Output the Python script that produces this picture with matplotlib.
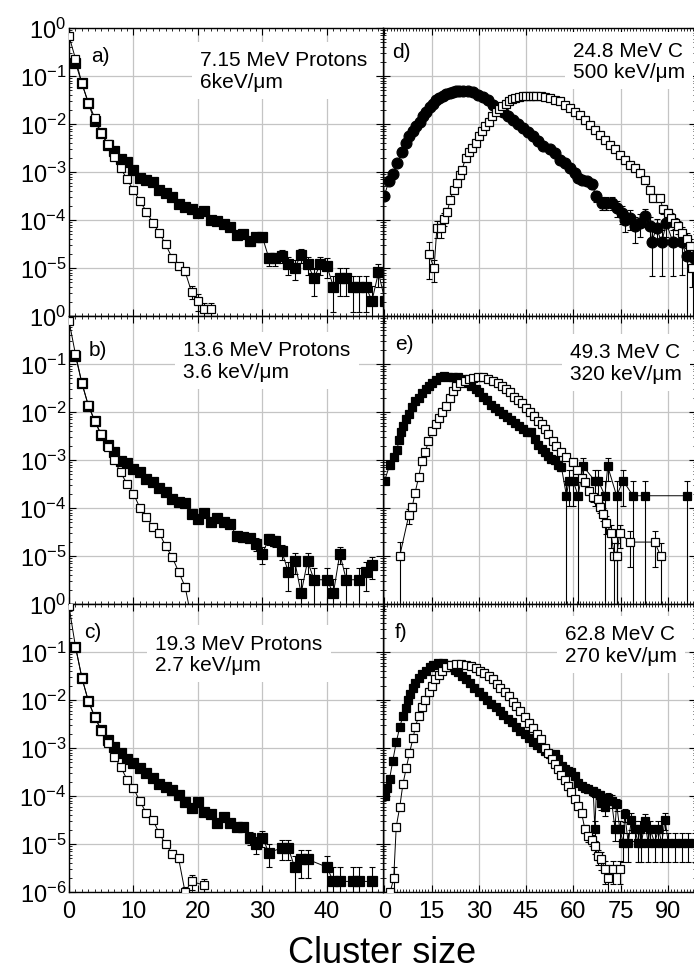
import numpy as np
import matplotlib
matplotlib.use("Agg")
import matplotlib.pyplot as plt
from matplotlib.ticker import MultipleLocator, FixedLocator, LogLocator, FuncFormatter, NullFormatter

plt.rcParams['font.family'] = ['Liberation Sans', 'DejaVu Sans']
plt.rcParams['mathtext.fontset'] = 'custom'
plt.rcParams['mathtext.rm'] = 'Liberation Sans'
plt.rcParams['mathtext.it'] = 'Liberation Sans:italic'
plt.rcParams['mathtext.bf'] = 'Liberation Sans:bold'

# ---------------- data ----------------
# a) 7.15 MeV protons
a_open_x = list(range(0, 23))
a_open_y = [0.68, 0.23, 0.07, 0.028, 0.0133, 0.0065, 0.0039, 0.0021, 0.00123, 7.0e-4,
            4.2e-4, 2.5e-4, 1.5e-4, 8.8e-5, 5.4e-5, 3.1e-5, 1.6e-5, 1.1e-5, 8.5e-6, 3.2e-6,
            2.1e-6, 1.4e-6, 1.4e-6]
a_open_err = {18: 0.15, 19: 0.3, 20: 0.4, 21: 0.35, 22: 0.35}
a_fill_x = list(range(1, 50))
a_fill_y = [0.19, 0.07, 0.027, 0.0115, 0.0065, 0.0037, 0.0028, 0.0019, 0.0016, 0.0011,
            7.6e-4, 6.7e-4, 6.3e-4, 4.2e-4, 3.6e-4, 3.0e-4, 2.2e-4, 1.9e-4, 1.7e-4, 1.37e-4,
            1.55e-4, 1.0e-4, 9.4e-5, 8.3e-5, 7.3e-5, 4.8e-5, 5.2e-5, 3.6e-5, 4.4e-5, 4.4e-5,
            1.6e-5, 1.6e-5, 1.8e-5, 1.2e-5, 1.0e-5, 1.9e-5, 1.2e-5, 6.2e-6, 1.2e-5, 1.1e-5,
            4.1e-6, 6.2e-6, 6.2e-6, 4.1e-6, 4.1e-6, 4.1e-6, 2.1e-6, 8.1e-6, 2.1e-6]
a_fill_err = {26: 0.15, 27: 0.15, 28: 0.2, 29: 0.2, 30: 0.2, 31: 0.3, 32: 0.3, 33: 0.3,
              34: 0.4, 35: 0.45, 36: 0.33, 37: 0.4, 38: 0.58, 39: 0.4, 40: 0.44, 41: 0.7,
              42: 0.58, 43: 0.58, 44: 0.7, 45: 0.7, 46: 0.7, 47: 1.0, 48: 0.5, 49: 1.0}

# b) 13.6 MeV protons
b_open_x = list(range(0, 20))
b_open_y = [0.79, 0.16, 0.040, 0.0138, 0.0065, 0.0034, 0.00186, 1.0e-3, 5.5e-4, 3.2e-4,
            2.0e-4, 1.0e-4, 6.5e-5, 4.0e-5, 3.0e-5, 1.6e-5, 9.5e-6, 4.7e-6, 2.3e-6, 5e-7]
b_open_err = {17: 0.15, 18: 0.2}
b_fill_x = list(range(1, 39)) + [40, 41, 42, 43, 45, 46, 47]
b_fill_y = [0.15, 0.040, 0.0135, 0.0065, 0.0033, 0.0021, 0.00148, 9.5e-4, 8.5e-4, 6.5e-4,
            5.5e-4, 4.0e-4, 3.4e-4, 2.6e-4, 2.2e-4, 1.55e-4, 1.32e-4, 1.26e-4, 7.6e-5, 5.9e-5,
            7.8e-5, 5.2e-5, 6.2e-5, 5.0e-5, 4.6e-5, 2.6e-5, 2.45e-5, 2.4e-5, 1.8e-5, 1.12e-5,
            2.3e-5, 2.1e-5, 1.26e-5, 4.7e-6, 7.9e-6, 1.66e-6, 7.9e-6, 3.2e-6,
            3.2e-6, 1.66e-6, 1.12e-5, 3.2e-6, 3.2e-6, 4.7e-6, 6.5e-6]
b_fill_err = {26: 0.2, 27: 0.2, 28: 0.2, 29: 0.3, 30: 0.38, 31: 0.27, 32: 0.27, 33: 0.36,
              34: 0.6, 35: 0.46, 36: 1.0, 37: 0.46, 38: 0.72, 40: 0.72, 41: 1.0, 42: 0.38,
              43: 0.72, 45: 0.72, 46: 0.6, 47: 0.5}

# c) 19.3 MeV protons
c_open_x = list(range(0, 20)) + [21]
c_open_y = [0.89, 0.13, 0.029, 0.0095, 0.0044, 0.0023, 0.00126, 6.6e-4, 4.1e-4, 2.2e-4,
            1.45e-4, 7.8e-5, 4.4e-5, 3.2e-5, 1.66e-5, 9.8e-6, 6.3e-6, 5.0e-6, 1.0e-6, 1.66e-6,
            1.38e-6]
c_open_err = {17: 0.15, 18: 0.3, 19: 0.35, 21: 0.35}
c_fill_x = list(range(1, 32)) + [33, 34, 35, 36, 37, 40, 41, 42, 44, 45, 47]
c_fill_y = [0.13, 0.029, 0.0095, 0.0044, 0.0024, 1.48e-3, 1.07e-3, 7.8e-4, 6.0e-4, 4.8e-4,
            3.8e-4, 2.95e-4, 2.4e-4, 1.82e-4, 1.55e-4, 1.32e-4, 1.07e-4, 7.6e-5, 5.5e-5, 7.4e-5,
            4.7e-5, 4.2e-5, 2.7e-5, 3.7e-5, 2.8e-5, 2.3e-5, 2.3e-5, 1.35e-5, 1.02e-5, 1.35e-5,
            6.6e-6, 8.3e-6, 8.3e-6, 3.3e-6, 4.8e-6, 4.8e-6, 3.3e-6, 1.66e-6, 1.66e-6, 1.66e-6,
            1.66e-6, 1.66e-6]
c_fill_err = {26: 0.15, 27: 0.15, 28: 0.3, 29: 0.4, 30: 0.35, 31: 0.5, 33: 0.45, 34: 0.45,
              35: 0.7, 36: 0.6, 37: 0.6, 40: 0.7, 41: 1.0, 42: 1.0, 44: 1.0, 45: 1.0, 47: 1.0}

# d) 24.8 MeV C  (filled circles / open squares)
d_fill_x = [0, 1.5, 2.7, 4.0, 5.7, 7.0, 8.0, 9.1, 10.1, 11.2, 12.3, 13.3, 14.4, 15.4, 16.5,
            17.5, 18.6, 19.7, 20.7, 21.8, 22.8, 23.8, 24.9, 26.5, 28.1, 29.7, 31.3, 32.9, 34.5,
            36.0, 37.6, 39.2, 40.8, 42.4, 44.0, 45.6, 47.1, 48.7, 50.3, 52.5, 54.1, 55.7, 57.3,
            58.9, 60.5, 61.5, 62.6, 64.2, 65.8, 67.3, 69.0, 70.5, 72.1, 73.7, 75.3, 76.3, 78.0,
            79.5, 81.1, 82.7, 84.3, 84.8, 86.4, 88.0, 89.5, 91.6, 94.3, 95.9, 98.0]
d_fill_y = [3.2e-4, 6.5e-4, 9.1e-4, 1.55e-3, 2.6e-3, 4.0e-3, 5.5e-3, 7.1e-3, 8.9e-3, 0.0112,
            0.0148, 0.0182, 0.0224, 0.0263, 0.0309, 0.0347, 0.0389, 0.0417, 0.0447, 0.0468,
            0.0479, 0.049, 0.049, 0.0479, 0.0457, 0.0407, 0.0363, 0.0309, 0.0251, 0.0204,
            0.0174, 0.0148, 0.0123, 0.0100, 8.3e-3, 6.8e-3, 5.5e-3, 4.4e-3, 3.5e-3, 2.95e-3,
            2.5e-3, 1.8e-3, 1.55e-3, 1.2e-3, 9.5e-4, 7.6e-4, 6.9e-4, 6.5e-4, 5.5e-4, 3.2e-4,
            2.3e-4, 2.3e-4, 2.3e-4, 1.8e-4, 1.4e-4, 1.0e-4, 1.1e-4, 7.4e-5, 8.7e-5, 1.2e-4,
            7.4e-5, 3.4e-5, 6.9e-5, 3.4e-5, 8.7e-5, 3.4e-5, 3.5e-5, 1.8e-5, 1.7e-5]
d_fill_err = {61.5: 0.15, 62.6: 0.15, 64.2: 0.15, 65.8: 0.18, 67.3: 0.25, 69.0: 0.3,
              70.5: 0.3, 72.1: 0.3, 73.7: 0.35, 75.3: 0.4, 76.3: 0.45, 78.0: 0.45, 79.5: 0.55,
              81.1: 0.5, 82.7: 0.4, 84.3: 0.55, 84.8: 0.8, 86.4: 0.55, 88.0: 0.8, 89.5: 0.5,
              91.6: 0.8, 94.3: 0.8, 95.9: 1.0, 98.0: 1.0}
d_open_x = [14.1, 15.8, 16.7, 18.1, 18.9, 20.0, 20.9, 22.0, 23.0, 23.9, 24.7, 25.8, 26.8, 27.9,
            29.0, 30.0, 31.1, 32.1, 33.2, 34.2, 35.3, 36.4, 37.4, 38.5, 39.5, 40.6, 41.6, 42.7,
            44.0, 45.0, 46.1, 47.1, 48.2, 49.8, 51.0, 52.5, 54.1, 55.7, 57.3, 58.9, 60.5, 62.1,
            63.7, 65.2, 66.8, 68.4, 70.0, 71.6, 73.2, 74.7, 76.3, 77.9, 79.5, 81.1, 82.7, 84.3,
            85.3, 87.4, 88.5, 90.0, 91.1, 92.2, 93.2, 94.3, 95.9, 97.0, 97.5]
d_open_y = [2.0e-5, 1.0e-5, 6.9e-5, 6.9e-5, 1.07e-4, 1.5e-4, 2.6e-4, 4.3e-4, 5.9e-4, 8.5e-4,
            1.12e-3, 1.95e-3, 2.6e-3, 3.2e-3, 4.0e-3, 5.5e-3, 7.1e-3, 8.9e-3, 0.0112, 0.0145,
            0.0174, 0.0204, 0.024, 0.0263, 0.0295, 0.0331, 0.0355, 0.0372, 0.0389, 0.039,
            0.0389, 0.039, 0.0389, 0.038, 0.0363, 0.0347, 0.0316, 0.0295, 0.0251, 0.0214,
            0.0182, 0.0155, 0.0123, 9.5e-3, 7.6e-3, 6.0e-3, 4.7e-3, 3.7e-3, 2.95e-3, 2.3e-3,
            1.8e-3, 1.41e-3, 1.2e-3, 9.5e-4, 6.9e-4, 4.3e-4, 2.9e-4, 2.9e-4, 1.66e-4, 1.41e-4,
            1.12e-4, 8.7e-5, 7.4e-5, 5.4e-5, 4.0e-5, 2.9e-5, 1.0e-5]
d_open_err = {14.1: 0.7, 15.8: 0.5, 16.7: 0.4, 18.1: 0.4, 18.9: 0.3, 20.0: 0.2, 84.3: 0.1,
              85.3: 0.15, 87.4: 0.15, 88.5: 0.2, 90.0: 0.2, 91.1: 0.25, 92.2: 0.25, 93.2: 0.3,
              94.3: 0.3, 95.9: 0.35, 97.0: 0.4, 97.5: 0.6}

# e) 49.3 MeV C
e_fill_x = [0.1, 1.7, 3.0, 4.0, 4.7, 5.4, 6.1, 7.0, 7.8, 8.9, 9.9, 11.0, 12.1, 13.1, 14.2, 15.2,
            16.5, 17.8, 18.8, 20.2, 21.8, 23.4, 24.9, 26.5, 27.6, 29.0, 30.2, 31.3, 32.6, 33.9,
            35.0, 36.4, 37.6, 38.9, 40.3, 41.6, 42.9, 44.0, 45.2, 46.6, 47.7, 48.8, 49.9, 50.9,
            52.0, 53.0, 54.1, 55.2, 56.2, 57.8, 58.6, 59.9, 61.5, 63.1, 66.8, 67.9, 70.0, 70.9,
            73.7, 75.8, 78.9, 82.6, 95.9]
e_fill_y = [3.7e-4, 7.8e-4, 1.15e-3, 1.62e-3, 2.6e-3, 3.8e-3, 5.2e-3, 7.1e-3, 9.1e-3, 0.0126,
            0.0166, 0.020, 0.0245, 0.030, 0.0355, 0.040, 0.0457, 0.0525, 0.0562, 0.0537,
            0.0537, 0.0525, 0.049, 0.040, 0.0355, 0.030, 0.0257, 0.0209, 0.0174, 0.0141,
            0.012, 0.0107, 9.3e-3, 7.8e-3, 6.8e-3, 5.8e-3, 5.2e-3, 4.5e-3, 3.8e-3, 3.9e-3,
            2.75e-3, 2.1e-3, 1.7e-3, 1.45e-3, 1.23e-3, 1.05e-3, 9.8e-4, 7.8e-4, 7.1e-4, 1.8e-4,
            3.7e-4, 3.7e-4, 1.8e-4, 7.4e-4, 3.7e-4, 3.7e-4, 1.8e-4, 7.4e-4, 1.8e-4, 3.7e-4,
            1.8e-4, 1.8e-4, 1.8e-4]
e_fill_err = {1.7: 0.15, 45.2: 0.12, 46.6: 0.12, 47.7: 0.15, 48.8: 0.15, 49.9: 0.15, 50.9: 0.15,
              52.0: 0.15, 53.0: 0.15, 54.1: 0.15, 55.2: 0.15, 56.2: 0.15, 57.8: 1.0, 58.6: 0.7,
              59.9: 0.7, 61.5: 1.0, 63.1: 0.5, 66.8: 0.7, 67.9: 0.7, 70.0: 1.0, 70.9: 0.5,
              73.7: 1.0, 75.8: 0.7, 78.9: 1.0, 82.6: 1.0, 95.9: 1.0}
e_open_x = [4.9, 7.8, 8.9, 9.8, 10.9, 11.9, 13.0, 14.0, 15.0, 16.3, 17.3, 18.4, 19.5, 20.7, 21.7,
            22.8, 24.1, 25.5, 26.8, 28.1, 29.7, 31.3, 32.9, 34.5, 36.0, 37.4, 38.7, 40.0, 41.3,
            42.4, 43.8, 45.0, 46.1, 47.4, 48.7, 49.9, 50.9, 52.0, 53.6, 54.5, 56.2, 57.8, 59.9,
            61.2, 62.6, 63.7, 64.8, 66.3, 67.9, 68.4, 69.5, 70.5, 71.9, 73.0, 73.7, 74.7, 78.0,
            85.8, 87.7]
e_open_y = [1.0e-5, 7.1e-5, 1.07e-4, 2.1e-4, 4.4e-4, 9.5e-4, 1.45e-3, 2.45e-3, 4.1e-3, 5.6e-3,
            7.6e-3, 0.010, 0.0135, 0.020, 0.0275, 0.0355, 0.040, 0.0447, 0.049, 0.0513,
            0.0525, 0.0525, 0.049, 0.0447, 0.040, 0.0355, 0.030, 0.0257, 0.0209, 0.0178,
            0.0151, 0.012, 9.8e-3, 8.3e-3, 6.6e-3, 5.6e-3, 4.5e-3, 3.5e-3, 2.5e-3, 2.0e-3,
            1.45e-3, 1.17e-3, 9.1e-4, 6.3e-4, 4.3e-4, 3.5e-4, 2.3e-4, 1.7e-4, 1.55e-4, 1.05e-4,
            7.6e-5, 4.9e-5, 3.0e-5, 1.0e-5, 1.0e-5, 3.0e-5, 1.95e-5, 1.95e-5, 1.0e-5]
e_open_err = {4.9: 1.0, 7.8: 0.35, 8.9: 0.2, 64.8: 0.15, 66.3: 0.2, 67.9: 0.2, 68.4: 0.25,
              69.5: 0.3, 70.5: 0.4, 71.9: 0.5, 73.0: 0.9, 73.7: 0.9, 74.7: 0.5, 78.0: 0.7,
              85.8: 0.7, 87.7: 0.9}

# f) 62.8 MeV C
f_fill_x = [0.1, 0.8, 1.7, 2.7, 3.8, 4.9, 5.9, 6.8, 7.5, 8.2, 9.1, 9.9, 11.0, 12.1, 13.1, 14.4,
            15.6, 17.0, 18.6, 20.2, 21.3, 22.3, 23.4, 24.7, 26.0, 27.3, 28.6, 30.0, 31.3, 32.6,
            33.9, 35.3, 36.6, 37.8, 39.2, 40.6, 41.9, 43.1, 44.5, 45.9, 47.1, 48.4, 49.8, 51.0,
            52.5, 54.1, 55.2, 56.3, 57.3, 58.4, 59.4, 60.5, 61.5, 62.6, 63.6, 64.7, 66.3, 66.8,
            67.3, 68.4, 68.9, 70.0, 71.0, 72.1, 73.2, 73.7, 74.7, 75.8, 76.3, 77.4, 78.4, 79.5,
            80.5, 81.1, 81.6, 82.7, 83.7, 84.3, 85.8, 87.0, 88.0, 89.1, 90.1, 92.2, 94.3, 96.4,
            98.5]
f_fill_y = [1.0e-4, 1.48e-4, 2.3e-4, 5.4e-4, 1.32e-3, 2.7e-3, 4.6e-3, 6.8e-3, 9.8e-3, 0.0135,
            0.0174, 0.0224, 0.0282, 0.0347, 0.0407, 0.0479, 0.0537, 0.0589, 0.0589, 0.0537,
            0.0479, 0.0427, 0.038, 0.0309, 0.0269, 0.0229, 0.0182, 0.0148, 0.0123, 0.0102,
            8.3e-3, 7.1e-3, 6.0e-3, 4.9e-3, 4.0e-3, 3.4e-3, 2.8e-3, 2.3e-3, 1.95e-3, 1.58e-3,
            1.35e-3, 1.15e-3, 9.8e-4, 8.7e-4, 7.4e-4, 7.4e-4, 5.9e-4, 4.3e-4, 3.6e-4, 3.3e-4,
            3.1e-4, 2.6e-4, 1.9e-4, 1.62e-4, 1.48e-4, 1.38e-4, 1.26e-4, 2.1e-5, 1.17e-4, 1.07e-4,
            7.2e-5, 5.8e-5, 9.3e-5, 7.9e-5, 2.1e-5, 6.8e-5, 2.1e-5, 1.05e-5, 4.2e-5, 1.05e-5,
            3.2e-5, 2.1e-5, 1.05e-5, 2.1e-5, 1.05e-5, 3.0e-5, 1.05e-5, 2.1e-5, 1.05e-5, 2.1e-5,
            1.05e-5, 3.2e-5, 1.05e-5, 1.05e-5, 1.05e-5, 1.05e-5, 1.05e-5]
f_fill_err = {61.5: 0.15, 62.6: 0.15, 63.6: 0.15, 64.7: 0.15, 66.3: 0.2, 66.8: 0.45, 67.3: 0.2,
              68.4: 0.2, 68.9: 0.3, 70.0: 0.35, 71.0: 0.25, 72.1: 0.3, 73.2: 0.45, 73.7: 0.3,
              74.7: 0.45, 75.8: 0.6, 76.3: 0.3, 77.4: 0.6, 78.4: 0.38, 79.5: 0.45, 80.5: 0.6,
              81.1: 0.45, 81.6: 0.6, 82.7: 0.38, 83.7: 0.6, 84.3: 0.45, 85.8: 0.6, 87.0: 0.45,
              88.0: 0.6, 89.1: 0.38, 90.1: 0.6, 92.2: 0.6, 94.3: 0.6, 96.4: 0.6, 98.5: 0.6}
f_open_x = [1.9, 3.0, 3.8, 4.9, 5.9, 7.0, 8.0, 9.1, 9.9, 10.9, 11.9, 13.0, 14.1, 15.1, 16.2,
            17.3, 18.4, 19.7, 21.3, 22.8, 24.4, 26.0, 27.6, 29.2, 30.4, 31.8, 33.2, 34.5, 35.7,
            36.8, 38.2, 39.5, 40.8, 41.9, 43.1, 44.5, 45.9, 47.1, 48.4, 49.8, 51.0, 52.0, 53.1,
            54.1, 55.2, 56.2, 57.3, 58.4, 59.4, 60.5, 61.5, 62.6, 63.6, 64.7, 65.8, 66.8, 67.9,
            68.9, 70.0, 71.0, 72.6, 74.7]
f_open_y = [1.0e-6, 1.95e-6, 2.3e-5, 5.8e-5, 1.74e-4, 3.9e-4, 7.8e-4, 1.58e-3, 2.8e-3, 4.6e-3,
            7.1e-3, 0.0102, 0.0145, 0.020, 0.0269, 0.0331, 0.0407, 0.0479, 0.0537, 0.0562,
            0.0562, 0.0537, 0.0501, 0.0457, 0.0407, 0.0363, 0.0309, 0.0269, 0.0214, 0.0174,
            0.0148, 0.012, 9.3e-3, 7.4e-3, 5.8e-3, 4.4e-3, 3.3e-3, 2.6e-3, 1.95e-3, 1.51e-3,
            1.02e-3, 7.8e-4, 6.0e-4, 4.6e-4, 3.6e-4, 2.8e-4, 2.2e-4, 1.62e-4, 1.2e-4, 8.5e-5,
            6.2e-5, 4.5e-5, 2.1e-5, 1.45e-5, 1.23e-5, 8.9e-6, 5.6e-6, 4.8e-6, 3.0e-6, 1.95e-6,
            3.0e-6, 3.0e-6]
f_open_err = {3.0: 0.7, 3.8: 0.1, 61.5: 0.1, 62.6: 0.12, 63.6: 0.2, 64.7: 0.25, 65.8: 0.25,
              66.8: 0.3, 67.9: 0.35, 68.9: 0.4, 70.0: 0.5, 71.0: 0.6, 72.6: 0.5, 74.7: 0.5}

panel_tags = ['a)', 'b)', 'c)', 'd)', 'e)', 'f)']
panel_texts = ['7.15 MeV Protons\n6keV/\u03bcm',
               '13.6 MeV Protons\n3.6 keV/\u03bcm',
               '19.3 MeV Protons\n2.7 keV/\u03bcm',
               '24.8 MeV C\n500 keV/\u03bcm',
               '49.3 MeV C\n320 keV/\u03bcm',
               '62.8 MeV C\n270 keV/\u03bcm']
left_ticks = [0, 10, 20, 30, 40]
right_ticks = [0, 15, 30, 45, 60, 75, 90]
y_ticks = [1e-6, 1e-5, 1e-4, 1e-3, 1e-2, 1e-1, 1e0]

# ---------------- figure ----------------
W, H = 694.0, 970.0
fig = plt.figure(figsize=(W / 100, H / 100), dpi=100)

row_top = [29, 317, 605]
row_h = 288
# text positions (axes fraction)
tag_pos = [(0.072, 0.904), (0.064, 0.884), (0.048, 0.906),
           (0.028, 0.918), (0.038, 0.906), (0.038, 0.906)]
txt_pos = [(0.417, 0.922), (0.363, 0.915), (0.274, 0.897),
           (0.607, 0.956), (0.597, 0.908), (0.581, 0.929)]

series = [
    (a_fill_x, a_fill_y, a_fill_err, a_open_x, a_open_y, a_open_err, 's'),
    (b_fill_x, b_fill_y, b_fill_err, b_open_x, b_open_y, b_open_err, 's'),
    (c_fill_x, c_fill_y, c_fill_err, c_open_x, c_open_y, c_open_err, 's'),
    (d_fill_x, d_fill_y, d_fill_err, d_open_x, d_open_y, d_open_err, 'o'),
    (e_fill_x, e_fill_y, e_fill_err, e_open_x, e_open_y, e_open_err, 's'),
    (f_fill_x, f_fill_y, f_fill_err, f_open_x, f_open_y, f_open_err, 's'),
]


def draw(ax, x, y, err, marker, filled, ms, z):
    x = np.asarray(x, float)
    y = np.asarray(y, float)
    rel = np.array([err.get(v, 0.0) for v in x])
    m = rel > 0
    if m.any():
        lo = y[m] * np.minimum(rel[m], 0.995)
        hi = y[m] * rel[m]
        ax.errorbar(x[m], y[m], yerr=[lo, hi], fmt='none', ecolor='black',
                    elinewidth=0.8, capsize=2.4, capthick=0.8, zorder=z - 0.5)
    ax.plot(x, y, '-', color='black', lw=0.7, marker=marker, ms=ms,
            mfc='black' if filled else 'white', mec='black', mew=0.9, zorder=z)


axes = [None] * 6
# right column first so the left column sits on top at the shared edge
for col in (1, 0):
    for row in range(3):
        k = col * 3 + row
        if col == 0:
            x0, w = 69, 314
        else:
            x0, w = 383, 313
        rect = [x0 / W, (H - row_top[row] - row_h) / H, w / W, row_h / H]
        ax = fig.add_axes(rect)
        axes[k] = ax

        fx, fy, fe, ox, oy, oe, fmark = series[k]
        if col == 0:
            draw(ax, fx, fy, fe, 's', True, 6.8, 3)
            draw(ax, ox, oy, oe, 's', False, 5.6, 4)
        else:
            if fmark == 'o':
                draw(ax, fx, fy, fe, 'o', True, 7.8, 3)
            else:
                draw(ax, fx, fy, fe, 's', True, 6.4, 3)
            draw(ax, ox, oy, oe, 's', False, 6.2, 4)

        ax.set_yscale('log')
        ax.set_ylim(1e-6, 1.0)
        ax.yaxis.set_major_locator(FixedLocator(y_ticks))
        ax.yaxis.set_minor_locator(LogLocator(base=10, subs=np.arange(2, 10), numticks=20))
        ax.yaxis.set_minor_formatter(NullFormatter())

        if col == 0:
            ax.set_xlim(0, 48.7)
            ax.xaxis.set_major_locator(FixedLocator(left_ticks))
            hide = row < 2
            ax.yaxis.set_major_formatter(FuncFormatter(
                lambda v, p, hide=hide: '' if (hide and v < 3e-6)
                else r'$\mathdefault{10^{%d}}$' % int(round(np.log10(v)))))
        else:
            ax.set_xlim(-0.4, 98.9)
            ax.xaxis.set_major_locator(FixedLocator(right_ticks))
            ax.tick_params(axis='y', labelleft=False)
        ax.xaxis.set_minor_locator(MultipleLocator(1))

        ax.tick_params(which='both', direction='in', top=True, right=True, colors='black')
        ax.tick_params(which='major', length=5, width=0.8, labelsize=17)
        ax.tick_params(which='minor', length=2.5, width=0.6)
        ax.tick_params(axis='y', pad=2)
        ax.tick_params(axis='x', pad=6)
        if row < 2:
            ax.tick_params(axis='x', labelbottom=False)

        ax.grid(True, which='major', color='#c4c4c4', lw=0.9)
        ax.set_axisbelow(True)
        for sp in ax.spines.values():
            sp.set_linewidth(1.0)
            sp.set_color('black')

        tx, ty = tag_pos[k]
        ax.text(tx, ty, panel_tags[k], transform=ax.transAxes, ha='left', va='center',
                fontsize=15, zorder=6)
        lx, ly = txt_pos[k]
        ax.text(lx, ly, panel_texts[k], transform=ax.transAxes, ha='left', va='top',
                fontsize=15, linespacing=1.15, zorder=6,
                bbox=dict(boxstyle='square,pad=0.4', facecolor='white', edgecolor='none'))

fig.text(0.55, 0.007, 'Cluster size', ha='center', va='baseline', fontsize=26)

fig.savefig('out.png', dpi=100)
